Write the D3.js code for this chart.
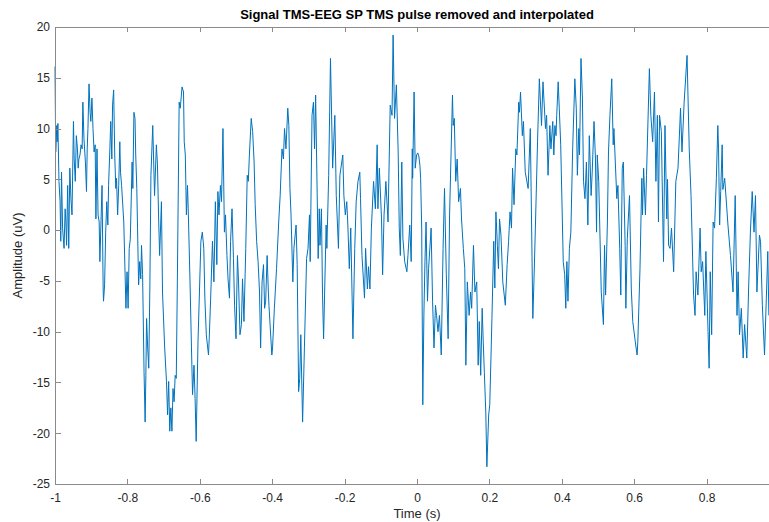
<!DOCTYPE html>
<html>
<head>
<meta charset="utf-8">
<script src="https://cdn.jsdelivr.net/npm/d3@7"></script>
<style>
  body { margin: 0; background: #fff; }
  svg { display: block; }
  .axis text { font-family: "Liberation Sans", Arial, sans-serif; font-size: 12px; fill: #262626; }
  .axis path, .axis line { stroke: #8a8a8a; shape-rendering: crispEdges; }
</style>
</head>
<body>
<svg id="plot"></svg>
<script>
// values (time in s, amplitude in uV)
var timeSec = [
  -1.000,-0.998,-0.995,-0.994,-0.992,-0.989,-0.986,-0.984,-0.982,-0.979,-0.975,-0.972,-0.970,-0.968,-0.965,-0.962,
  -0.959,-0.956,-0.953,-0.949,-0.947,-0.944,-0.941,-0.938,-0.936,-0.934,-0.931,-0.928,-0.925,-0.923,-0.920,-0.916,
  -0.913,-0.911,-0.909,-0.906,-0.903,-0.901,-0.898,-0.895,-0.892,-0.889,-0.887,-0.884,-0.881,-0.878,-0.876,-0.873,
  -0.870,-0.867,-0.866,-0.863,-0.860,-0.857,-0.854,-0.852,-0.849,-0.846,-0.843,-0.841,-0.838,-0.835,-0.832,-0.830,
  -0.827,-0.824,-0.821,-0.819,-0.816,
  -0.810,-0.804,-0.801,-0.798,-0.795,-0.792,-0.787,-0.785,-0.782,-0.779,-0.777,-0.774,-0.772,-0.769,-0.766,-0.763,
  -0.761,-0.758,-0.754,-0.751,-0.749,-0.747,-0.744,-0.741,-0.738,-0.735,-0.730,-0.725,-0.720,-0.717,-0.714,-0.711,
  -0.706,-0.703,-0.697,-0.692,-0.689,-0.686,-0.683,-0.680,-0.677,-0.674,-0.671,-0.668,-0.665,-0.662,-0.657,-0.654,
  -0.649,-0.645,-0.643,-0.640,-0.637,-0.634,-0.632,-0.627,-0.623,-0.620,-0.616,-0.613,-0.610,
  -0.605,-0.602,-0.597,-0.593,-0.589,-0.586,-0.582,-0.576,-0.574,-0.570,-0.565,-0.561,-0.557,-0.553,-0.550,-0.547,
  -0.543,-0.540,-0.536,-0.532,-0.529,-0.525,-0.522,-0.518,-0.515,-0.511,-0.507,-0.504,-0.500,-0.496,-0.493,-0.489,
  -0.485,-0.482,-0.478,-0.473,-0.469,-0.466,-0.463,-0.458,-0.454,-0.450,-0.447,-0.443,-0.439,-0.435,-0.432,-0.428,
  -0.424,-0.421,-0.418,-0.414,
  -0.411,-0.409,-0.401,-0.399,-0.394,-0.388,-0.382,-0.378,-0.373,-0.369,-0.366,-0.362,-0.357,-0.354,-0.351,-0.348,
  -0.343,-0.340,-0.334,-0.331,-0.327,-0.324,-0.321,-0.316,-0.311,-0.305,-0.301,-0.297,-0.295,-0.290,-0.286,-0.283,
  -0.280,-0.273,-0.270,-0.268,-0.264,-0.261,-0.258,-0.251,-0.249,-0.244,-0.239,-0.233,-0.227,-0.223,-0.217,-0.213,
  -0.205,-0.202,-0.198,-0.194,-0.191,-0.187,-0.183,-0.177,-0.172,-0.168,-0.163,-0.158,-0.156,-0.152,-0.145,-0.142,
  -0.137,-0.134,-0.130,-0.126,-0.120,-0.115,-0.110,-0.108,-0.104,-0.098,-0.095,-0.091,-0.086,-0.080,-0.074,-0.069,
  -0.066,-0.062,-0.057,-0.052,-0.049,-0.046,-0.042,-0.039,-0.034,-0.028,-0.025,-0.020,-0.016,-0.013,
  -0.012,-0.008,-0.005,-0.001,0.002,0.005,0.008,0.010,0.013,0.016,0.019,0.022,0.025,0.029,0.032,0.039,
  0.043,0.047,0.051,0.054,0.058,0.062,0.067,0.072,0.076,0.081,0.086,0.090,0.098,0.100,0.103,0.107,
  0.111,0.115,0.120,0.123,0.128,0.132,0.135,0.139,0.144,0.148,0.151,0.156,0.160,0.165,0.169,0.172,
  0.176,0.180,0.183,0.186,0.190,0.193,
  0.198,0.201,0.205,0.207,0.212,0.215,0.218,0.222,0.225,0.228,0.232,0.237,0.244,0.249,0.253,0.257,
  0.261,0.264,0.268,0.273,0.276,0.281,0.283,0.286,0.291,0.294,0.299,0.307,0.313,0.320,0.323,0.327,
  0.333,0.338,0.344,0.348,0.355,0.358,0.362,0.367,0.370,0.375,0.378,0.381,0.384,
  0.386,0.390,0.393,0.397,0.404,0.408,0.411,0.414,0.417,0.421,0.425,0.430,0.436,0.440,0.443,0.447,
  0.449,0.453,0.457,0.460,0.464,0.468,0.472,0.476,0.481,0.484,0.489,0.493,0.496,0.498,0.502,0.509,
  0.515,0.518,0.521,0.526,0.529,0.533,0.538,0.542,0.544,0.547,0.552,0.555,0.560,0.563,0.567,0.570,
  0.575,0.577,0.581,
  0.587,0.592,0.596,0.603,0.608,0.610,0.616,0.621,0.623,0.626,0.631,0.634,0.642,0.646,0.651,0.656,
  0.660,0.664,0.667,0.670,0.675,0.681,0.685,0.690,0.692,0.695,0.699,0.703,0.709,0.715,0.721,0.728,
  0.732,0.738,0.746,0.752,0.757,0.764,0.768,0.771,0.776,0.782,
  0.785,0.789,0.795,0.798,0.804,0.807,0.810,0.814,0.818,0.822,0.827,0.831,0.833,0.836,0.839,0.843,
  0.845,0.850,0.859,0.866,0.873,0.879,0.884,0.887,0.891,0.896,0.901,0.905,0.911,0.916,0.921,0.926,
  0.931,0.935,0.939,0.946,0.949,0.954,0.960,0.965,0.969,0.972
];
var amplitudeUv = [
  16.1,7.7,10.3,8.7,10.5,4.8,2.8,-1.1,5.7,0.2,-1.8,2.1,0.8,-1.5,4.4,-1.8,
  6.1,3.1,1.5,10.7,7.0,4.8,9.3,8.0,6.1,7.0,7.4,8.4,8.0,12.6,9.0,6.7,
  3.8,8.0,10.0,14.4,11.6,10.7,13.0,10.0,7.7,8.4,1.1,8.0,1.5,0.8,-3.1,0.8,
  4.4,-5.7,-7.0,-5.4,-0.2,2.8,0.5,4.4,7.4,10.7,7.0,12.3,13.8,7.4,4.1,5.1,
  1.5,4.4,8.7,5.7,4.4,
  0.8,-7.7,-4.1,-7.7,-1.8,-0.9,6.7,4.1,11.6,11.0,7.4,4.1,0.2,-5.4,-3.1,-4.8,
  -1.5,-4.4,-14.0,-18.9,-14.3,-8.7,-11.6,-13.6,-5.7,5.4,10.3,3.4,8.4,6.5,1.5,-2.5,
  2.8,-6.1,-11.6,-14.9,-18.2,-14.9,-19.8,-17.5,-19.8,-15.6,-16.9,-14.3,-14.6,-5.1,12.6,12.0,
  14.1,13.6,8.7,7.4,1.5,4.4,2.1,-5.1,-11.6,-16.2,-13.3,-16.6,-20.8,
  -11.0,-7.4,-1.1,-0.2,-1.8,-6.7,-10.3,-12.3,-10.7,-6.7,-1.1,-5.1,2.8,-3.4,3.8,1.5,
  4.4,2.8,10.0,-0.2,1.5,-2.5,-4.8,-6.7,-1.1,2.1,-2.8,-7.4,-10.7,-2.5,-5.1,-10.3,
  -9.3,-4.8,-9.0,-1.8,5.4,4.8,7.4,11.0,9.7,6.7,2.5,-1.1,-3.1,-6.1,-11.6,-5.1,
  -3.4,-7.7,-7.0,-2.5,
  -5.7,-7.4,-12.3,-11.6,-7.7,-3.8,0.8,3.4,8.0,7.0,10.0,8.0,12.0,10.3,4.1,1.5,
  -5.1,-1.8,0.5,-3.4,-15.9,-14.6,-10.3,-18.9,-11.6,-2.8,-1.8,1.5,-3.1,11.3,12.6,8.0,
  13.3,-2.8,2.1,-1.5,2.1,-6.4,-10.7,0.5,-1.8,5.4,16.9,6.1,11.3,3.4,-1.8,5.4,
  7.4,3.4,1.5,2.8,0.5,-3.8,0.2,-10.7,-1.8,2.8,4.8,5.7,3.1,-2.5,-6.7,-1.8,
  -5.8,-3.6,-5.8,0.2,4.8,2.1,8.4,2.1,6.1,1.1,-4.4,1.5,4.8,0.8,12.3,11.3,
  19.2,11.0,14.3,7.7,0.2,-2.5,6.7,-0.8,-3.1,-4.1,-2.5,0.5,-3.1,8.0,
  5.1,13.6,6.1,7.4,7.6,7.3,6.4,5.1,0.2,-17.2,-8.4,-3.1,0.8,-7.0,-3.8,0.2,
  -7.0,-11.6,-7.4,-8.4,-10.0,-8.4,-12.3,-1.8,4.1,-4.4,-10.7,1.5,13.3,10.3,11.0,4.8,
  7.0,2.8,4.1,1.1,-1.8,-3.8,-13.3,-5.1,-8.4,-6.1,-7.7,-1.5,-6.1,-5.1,-13.3,-9.0,
  -14.3,-7.7,-11.0,-14.0,-17.9,-23.3,
  -18.2,-17.2,-11.6,-8.7,-1.1,-5.7,1.8,-1.5,-3.8,1.1,-0.5,-5.1,-7.4,-3.4,-1.1,1.8,
  0.2,6.1,2.5,8.0,7.4,12.6,11.6,13.6,9.3,10.7,5.7,4.1,10.0,-8.7,-5.1,0.2,
  8.7,14.9,10.3,14.6,10.0,11.3,5.4,10.3,8.0,10.7,7.4,10.3,9.3,
  11.3,14.6,12.0,8.4,-3.1,-4.4,-7.7,-3.1,-7.0,-1.8,-0.2,8.0,14.9,12.0,5.4,10.0,
  7.4,16.9,13.0,4.8,3.1,6.7,0.5,9.3,3.4,5.7,10.7,7.0,-0.2,7.4,4.8,-6.1,
  -9.3,-1.5,-6.4,0.8,7.7,11.3,14.9,8.4,10.0,7.4,3.1,4.4,-1.8,-6.4,6.1,6.7,
  -1.5,-7.7,-0.8,
  3.4,-5.8,-9.0,-11.0,-12.3,-11.0,-3.8,5.1,1.5,6.1,1.5,5.4,15.9,11.3,8.7,13.6,
  4.8,11.3,0.8,11.3,9.7,-3.1,10.3,1.1,5.0,-1.5,-1.8,0.2,-4.1,4.8,6.1,12.0,
  7.7,12.6,17.2,8.0,3.4,-6.4,-8.4,-4.1,-6.4,0.2,
  -4.1,-3.1,-8.4,-2.1,-10.0,-13.6,-4.1,-10.3,0.8,0.2,5.1,10.3,8.0,0.5,3.8,8.4,
  4.0,5.1,0.5,-2.5,-6.1,3.4,-8.4,-4.1,-10.3,-7.7,-12.6,-9.3,-12.6,-5.8,-0.2,3.8,
  -0.2,3.4,-6.1,-0.5,-1.1,-7.4,-12.3,-6.7,-2.1,-8.4
];
var xTicks = [-1, -0.8, -0.6, -0.4, -0.2, 0, 0.2, 0.4, 0.6, 0.8];
var yTicks = [-25, -20, -15, -10, -5, 0, 5, 10, 15, 20];
var titleText = "Signal TMS-EEG SP TMS pulse removed and interpolated";
var xLabel = "Time (s)";
var yLabel = "Amplitude (uV)";

var width = 769, height = 522;
var margin = {top: 27, left: 55, bottom: 38};

var svg = d3.select("#plot")
    .attr("width", width)
    .attr("height", height);

// axes run from -1 to 1 s; the picture is cut just before the right edge
var xScale = d3.scaleLinear()
    .domain([-1, 1])
    .range([margin.left, margin.left + 724]);
var yScale = d3.scaleLinear()
    .domain([-25, 20])
    .range([height - margin.bottom, margin.top]);

var points = timeSec.map((t, i) => ({x: t, y: amplitudeUv[i]}));

var line = d3.line()
    .x(d => xScale(d.x))
    .y(d => yScale(d.y));

svg.append("path")
    .datum(points)
    .attr("fill", "none")
    .attr("stroke", "#0072BD")
    .attr("stroke-width", 1)
    .attr("stroke-linejoin", "round")
    .attr("d", line);

var fmt = d => String(d);

svg.append("g")
    .attr("class", "axis x")
    .attr("transform", "translate(0," + yScale(-25) + ")")
    .call(d3.axisBottom(xScale).tickValues(xTicks).tickFormat(fmt)
      .tickSizeInner(-5).tickSizeOuter(0).tickPadding(9));

svg.append("g")
    .attr("class", "axis top")
    .attr("transform", "translate(0," + yScale(20) + ")")
    .call(d3.axisTop(xScale).tickValues(xTicks).tickFormat("")
      .tickSizeInner(-5).tickSizeOuter(0));

svg.append("g")
    .attr("class", "axis y")
    .attr("transform", "translate(" + xScale(-1) + ",0)")
    .call(d3.axisLeft(yScale).tickValues(yTicks).tickFormat(fmt)
      .tickSizeInner(-6).tickSizeOuter(0).tickPadding(5));

svg.append("text")
    .attr("x", (xScale(-1) + xScale(1)) / 2)
    .attr("y", 19)
    .attr("text-anchor", "middle")
    .attr("font-family", "Liberation Sans, Arial, sans-serif")
    .attr("font-size", 13)
    .attr("font-weight", "bold")
    .attr("fill", "#000")
    .text(titleText);

svg.append("text")
    .attr("x", (xScale(-1) + xScale(1)) / 2)
    .attr("y", 518)
    .attr("text-anchor", "middle")
    .attr("font-family", "Liberation Sans, Arial, sans-serif")
    .attr("font-size", 13)
    .attr("fill", "#262626")
    .text(xLabel);

svg.append("text")
    .attr("transform", "translate(22," + yScale(-2.5) + ") rotate(-90)")
    .attr("text-anchor", "middle")
    .attr("font-family", "Liberation Sans, Arial, sans-serif")
    .attr("font-size", 13)
    .attr("fill", "#262626")
    .text(yLabel);
</script>
</body>
</html>
